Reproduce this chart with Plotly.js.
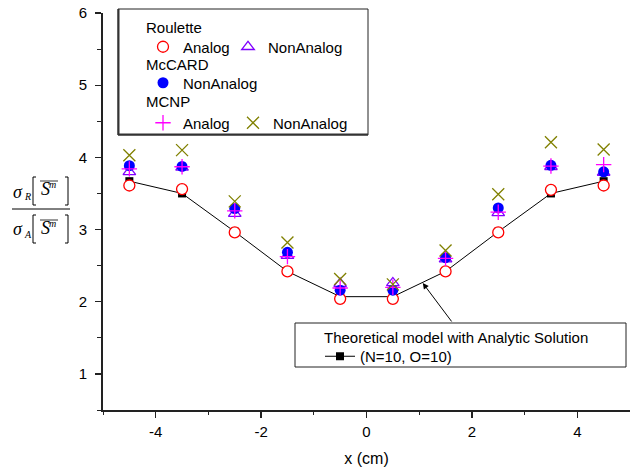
<!DOCTYPE html>
<html>
<head>
<meta charset="utf-8">
<script src="https://cdn.plot.ly/plotly-3.0.1.min.js"></script>
<style>html,body{margin:0;padding:0;background:#fff;}#chart{width:630px;height:473px;}</style>
</head>
<body>
<div id="chart"></div>
<script>
// ---- data ----
const xPos = [-4.5, -3.5, -2.5, -1.5, -0.5, 0.5, 1.5, 2.5, 3.5, 4.5];
const theory = [3.67, 3.50, 2.97, 2.42, 2.07, 2.07, 2.42, 2.97, 3.50, 3.67];
const rouletteAnalog = [3.61, 3.56, 2.96, 2.42, 2.04, 2.04, 2.42, 2.96, 3.55, 3.61];
const rouletteNonAnalog = [3.80, 3.86, 3.22, 2.64, 2.25, 2.26, 2.59, 3.23, 3.87, 3.79];
const mccardNonAnalog = [3.885, 3.875, 3.29, 2.685, 2.16, 2.16, 2.61, 3.30, 3.89, 3.80];
const mcnpAnalog = [3.84, 3.87, 3.26, 2.625, 2.19, 2.20, 2.60, 3.24, 3.88, 3.90];
const mcnpNonAnalog = [4.03, 4.10, 3.39, 2.82, 2.315, 2.24, 2.71, 3.49, 4.21, 4.11];
const xTickVals = [-4, -2, 0, 2, 4];
const xTickText = ['-4', '-2', '0', '2', '4'];
const yTickVals = [1, 2, 3, 4, 5, 6];
const groupTitles = ['Roulette', 'McCARD', 'MCNP'];
const modelTitle = 'Theoretical model with Analytic Solution';

// ---- layout helpers (pixel -> paper) ----
const L = 103, R = 630, T = 13, B = 410;
const W = R - L, H = B - T;
const px = x => (x - L) / W;
const py = y => (B - y) / H;

const sans = 'Liberation Sans, Arial, sans-serif';
const serif = 'Liberation Serif, Times New Roman, serif';
const legFont = {family: sans, size: 15, color: '#000'};

const traces = [
  {x: xPos, y: theory, name: '(N=10, O=10)', mode: 'lines+markers', legend: 'legend4',
   line: {color: '#000', width: 1},
   marker: {symbol: 'square', size: 8, color: '#000'}},
  {x: xPos, y: rouletteAnalog, name: 'Analog', mode: 'markers', legend: 'legend', legendwidth: 40,
   marker: {symbol: 'circle', size: 11, color: '#fff', line: {color: '#ff0000', width: 1.3}}},
  {x: xPos, y: rouletteNonAnalog, name: 'NonAnalog', mode: 'markers', legend: 'legend',
   marker: {symbol: 'triangle-up-open', size: 11, color: '#8000ff', line: {color: '#8000ff', width: 1.3}}},
  {x: xPos, y: mccardNonAnalog, name: 'NonAnalog', mode: 'markers', legend: 'legend2',
   marker: {symbol: 'circle', size: 11, color: '#0000ff'}},
  {x: xPos, y: mcnpAnalog, name: 'Analog', mode: 'markers', legend: 'legend3', legendwidth: 45,
   marker: {symbol: 'cross-thin-open', size: 11, color: '#ff00ff', line: {color: '#ff00ff', width: 1.3}}},
  {x: xPos, y: mcnpNonAnalog, name: 'NonAnalog', mode: 'markers', legend: 'legend3',
   marker: {symbol: 'x-thin-open', size: 12, color: '#808000', line: {color: '#808000', width: 1.3}}}
];

function legendAt(xp, yp) {
  return {x: px(xp), y: py(yp), xanchor: 'left', yanchor: 'top', orientation: 'h',
    bgcolor: 'rgba(0,0,0,0)', borderwidth: 0, font: legFont,
    itemclick: false, itemdoubleclick: false};
}

const line1 = {color: '#000', width: 1};
const frame = {color: '#222', width: 1};
const shapes = [
  // legend frames (with the heavier left/bottom edge of the original)
  {type: 'rect', xref: 'paper', yref: 'paper', x0: px(118), x1: px(368), y0: py(135), y1: py(9),
   line: frame, fillcolor: '#fff', layer: 'below'},
  {type: 'line', xref: 'paper', yref: 'paper', x0: px(118.5), x1: px(118.5), y0: py(135), y1: py(9), line: {color: '#333', width: 2}},
  {type: 'line', xref: 'paper', yref: 'paper', x0: px(118), x1: px(368), y0: py(134.5), y1: py(134.5), line: {color: '#333', width: 2}},
  {type: 'rect', xref: 'paper', yref: 'paper', x0: px(295), x1: px(626), y0: py(367), y1: py(323),
   line: frame, fillcolor: '#fff', layer: 'above'},
  // y-axis title pieces: fraction bar, brackets, overlines
  {type: 'line', xref: 'paper', yref: 'paper', x0: px(12), x1: px(70), y0: py(209), y1: py(209), line: line1},
  {type: 'path', xref: 'paper', yref: 'paper', path: `M ${px(36)},${py(177)} L ${px(33)},${py(177)} L ${px(33)},${py(205)} L ${px(36)},${py(205)}`, line: line1},
  {type: 'path', xref: 'paper', yref: 'paper', path: `M ${px(65)},${py(177)} L ${px(68)},${py(177)} L ${px(68)},${py(205)} L ${px(65)},${py(205)}`, line: line1},
  {type: 'line', xref: 'paper', yref: 'paper', x0: px(40), x1: px(58), y0: py(181), y1: py(181), line: {color: '#000', width: 0.8}},
  {type: 'path', xref: 'paper', yref: 'paper', path: `M ${px(36)},${py(215)} L ${px(33)},${py(215)} L ${px(33)},${py(243)} L ${px(36)},${py(243)}`, line: line1},
  {type: 'path', xref: 'paper', yref: 'paper', path: `M ${px(65)},${py(215)} L ${px(68)},${py(215)} L ${px(68)},${py(243)} L ${px(65)},${py(243)}`, line: line1},
  {type: 'line', xref: 'paper', yref: 'paper', x0: px(40), x1: px(58), y0: py(220), y1: py(220), line: {color: '#000', width: 0.8}}
];

function txt(x, y, text, font, anchor) {
  return {xref: 'paper', yref: 'paper', x: px(x), y: py(y), text: text, showarrow: false,
    xanchor: anchor || 'center', yanchor: 'middle', font: font, borderpad: 0};
}
const big = {family: serif, size: 18, color: '#000'};
const sml = {family: serif, size: 10, color: '#000'};
const annotations = [
  txt(18, 192, '<i>σ</i>', big), txt(27.5, 196, '<i>R</i>', sml),
  txt(45, 189, '<i>S</i>', big), txt(52.5, 184, '<i>m</i>', sml),
  txt(18, 229, '<i>σ</i>', big), txt(27.5, 234, '<i>A</i>', sml),
  txt(45, 228, '<i>S</i>', big), txt(52.5, 223, '<i>m</i>', sml),
  // legend group titles
  txt(145, 27.5, groupTitles[0], legFont, 'left'),
  txt(145, 64.5, groupTitles[1], legFont, 'left'),
  txt(145, 101.5, groupTitles[2], legFont, 'left'),
  txt(323, 337, modelTitle, legFont, 'left'),
  // arrow pointing at the model curve
  {x: 1.067, y: 2.26, xref: 'x', yref: 'y', text: '', showarrow: true, arrowhead: 2, arrowsize: 1.2,
   arrowwidth: 1, arrowcolor: '#000', ax: 30, ay: 40}
];

const layout = {
  width: 630, height: 473,
  margin: {l: L, r: 630 - R, t: T, b: 473 - B},
  paper_bgcolor: '#fff', plot_bgcolor: '#fff',
  font: {family: sans, size: 15, color: '#000'},
  xaxis: {
    range: [-5, 5], tickvals: xTickVals, ticktext: xTickText, ticks: 'outside', ticklen: 6, tickwidth: 1.3, tickcolor: '#222',
    showline: true, linecolor: '#222', linewidth: 1.5, showgrid: false, zeroline: false,
    tickfont: {family: sans, size: 15}, ticklabelstandoff: 1,
    minor: {dtick: 1, ticks: 'outside', ticklen: 3.5, tickwidth: 1, tickcolor: '#222', showgrid: false},
    title: {text: 'x (cm)', font: {family: sans, size: 16}, standoff: 14}
  },
  yaxis: {
    range: [0.5, 6], tickvals: yTickVals, ticks: 'outside', ticklen: 6, tickwidth: 1.3, tickcolor: '#222',
    showline: true, linecolor: '#222', linewidth: 1.8, showgrid: false, zeroline: false,
    tickfont: {family: sans, size: 15}, ticklabelstandoff: 5,
    minor: {dtick: 0.5, tick0: 0.5, ticks: 'outside', ticklen: 4, tickwidth: 1, tickcolor: '#222', showgrid: false}
  },
  showlegend: true,
  legend: legendAt(143, 30.5),
  legend2: legendAt(143, 66.5),
  legend3: legendAt(143, 106.5),
  legend4: legendAt(320, 340),
  shapes: shapes,
  annotations: annotations
};

Plotly.newPlot('chart', traces, layout, {displayModeBar: false, staticPlot: true});
</script>
</body>
</html>
